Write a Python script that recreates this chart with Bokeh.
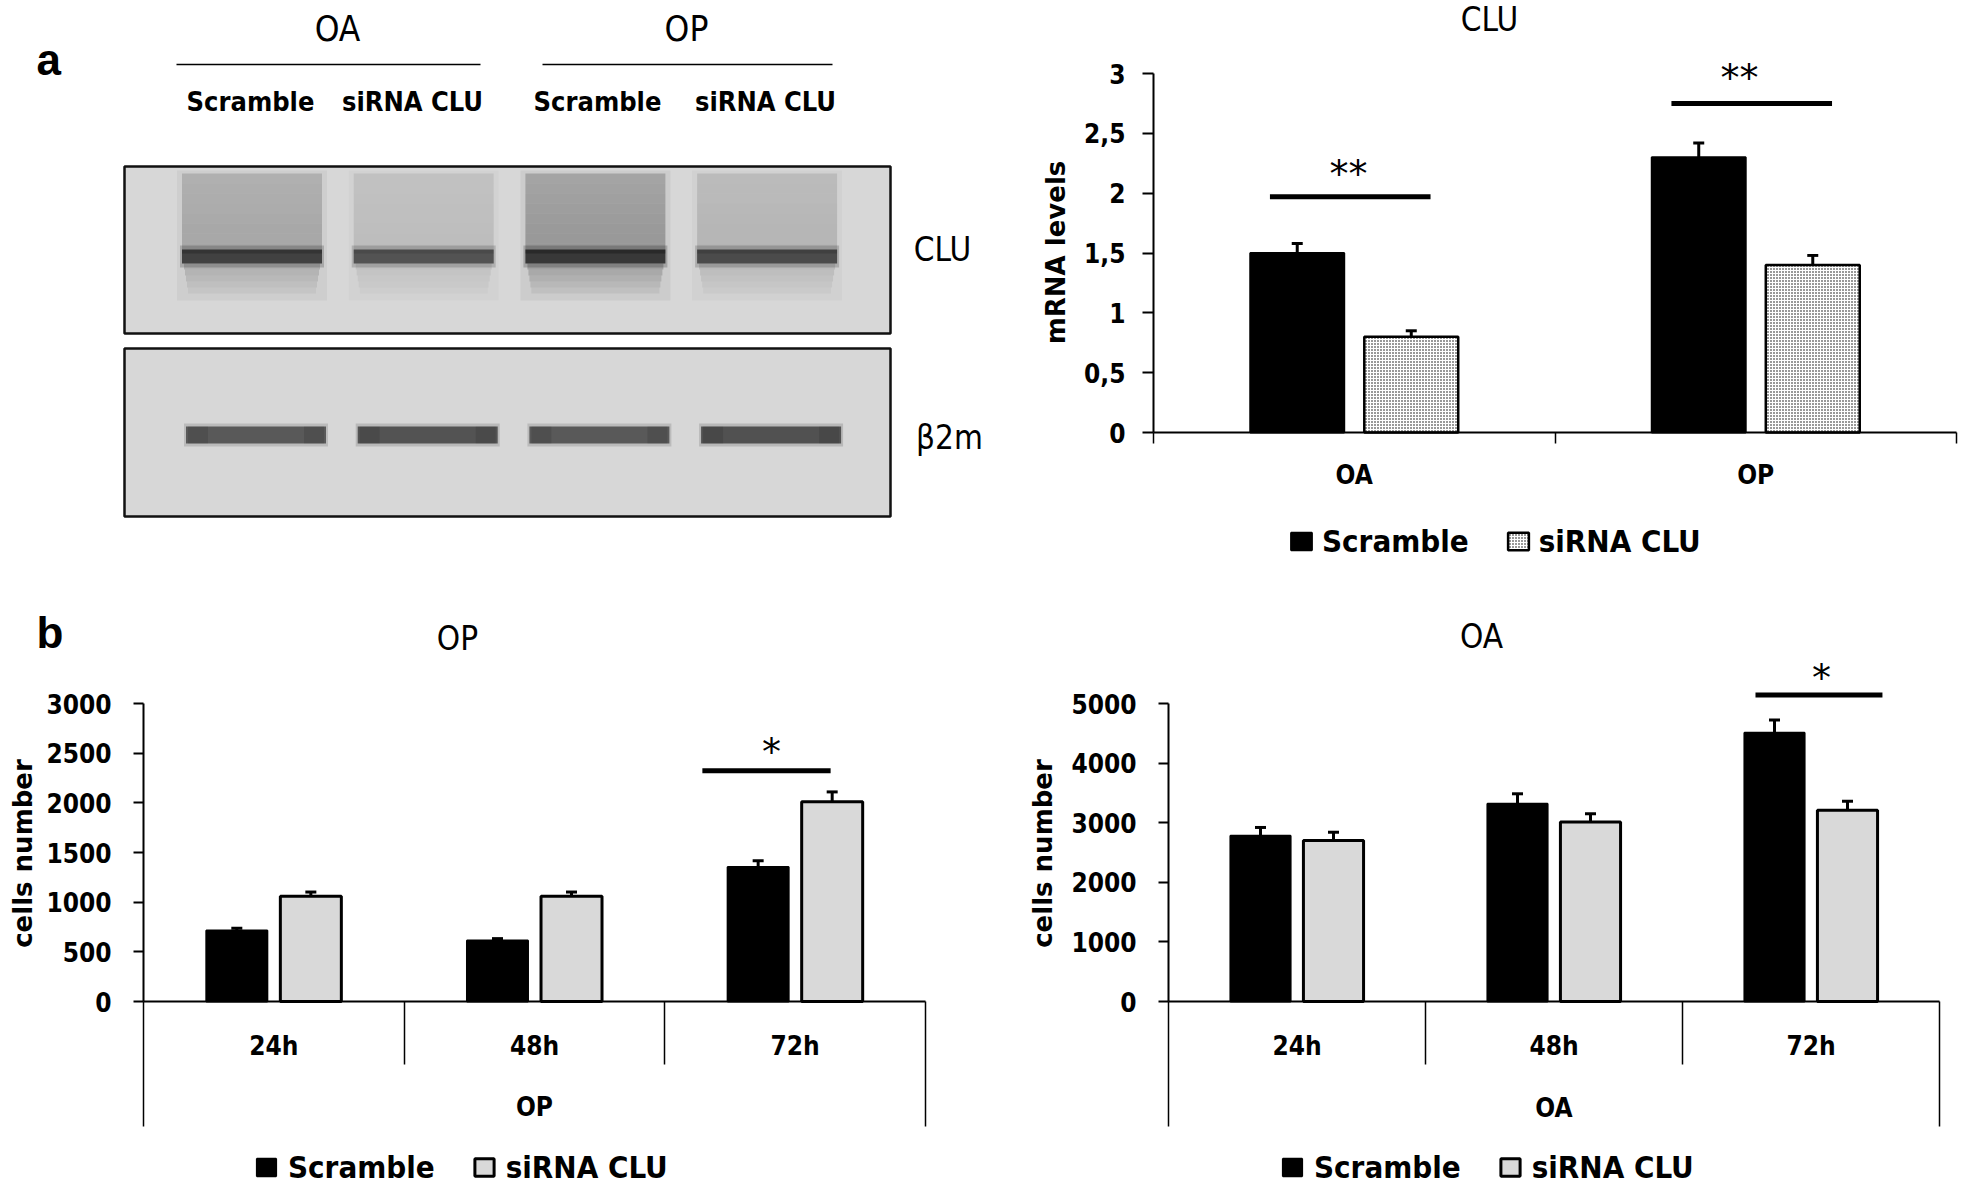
from math import pi
from bokeh.plotting import figure
from bokeh.models import (Range1d, FixedTicker, LinearAxis, Whisker, TeeHead,
                          ColumnDataSource, Legend, LegendItem)
from bokeh.layouts import column, row
from bokeh.core.properties import value
from bokeh.embed import file_html
from bokeh.resources import INLINE

# ---------------- data ----------------
series = ["Scramble", "siRNA CLU"]

blot_groups = ["OA", "OP"]
blot_lanes = ["Scramble", "siRNA CLU", "Scramble", "siRNA CLU"]
blot_targets = ["CLU", "β2m"]
clu_band_density = [0.61, 0.53, 0.66, 0.57]
clu_smear_density = [0.17, 0.09, 0.23, 0.12]
b2m_band_density = [0.52, 0.55, 0.52, 0.56]

clu_title = "CLU"
clu_ylabel = "mRNA levels"
clu_groups = ["OA", "OP"]
clu_scramble = [1.5, 2.3]
clu_scramble_err = [0.08, 0.12]
clu_sirna = [0.8, 1.4]
clu_sirna_err = [0.05, 0.08]
clu_yticks = [0, 0.5, 1, 1.5, 2, 2.5, 3]
clu_ytick_labels = ["0", "0,5", "1", "1,5", "2", "2,5", "3"]
clu_sig_level = [1.97, 2.75]
clu_sig_mark = ["**", "**"]

hours = ["24h", "48h", "72h"]
cells_ylabel = "cells number"

op_title = "OP"
op_scramble = [715, 615, 1355]
op_scramble_err = [22, 18, 62]
op_sirna = [1060, 1060, 2010]
op_sirna_err = [42, 42, 100]
op_yticks = [0, 500, 1000, 1500, 2000, 2500, 3000]
op_sig_level = 2322
op_sig_mark = "*"

oa_title = "OA"
oa_scramble = [2780, 3320, 4510]
oa_scramble_err = [140, 165, 215]
oa_sirna = [2700, 3010, 3210]
oa_sirna_err = [140, 140, 150]
oa_yticks = [0, 1000, 2000, 3000, 4000, 5000]
oa_sig_level = 5143
oa_sig_mark = "*"

# ---------------- style / layout ----------------
COND = "DejaVu Sans Condensed"
SANS = "DejaVu Sans"
LETTER = "Liberation Sans"
BAR_W = 0.234
BAR_OFF = 0.142
STAR_DY = 6


def new_fig(x0, x1, y0, y1, xr, yr):
    p = figure(width=x1 - x0, height=y1 - y0, x_range=xr, y_range=yr,
               x_axis_location=None, y_axis_location=None, toolbar_location=None,
               output_backend="svg", min_border=0)
    p.xgrid.visible = False
    p.ygrid.visible = False
    p.outline_line_color = None
    p.background_fill_color = "white"
    p.border_fill_color = "white"
    return p


def chart(x0, x1, y0, y1, axis_px, zero_px, top_px, unit_x, ymax):
    spy = (zero_px - top_px) / ymax
    fx = lambda px: (px - axis_px) / unit_x
    fy = lambda py: (zero_px - py) / spy
    p = new_fig(x0, x1, y0, y1, Range1d(fx(x0), fx(x1)), Range1d(fy(y1), fy(y0)))
    return p, fx, fy


def add_axes(p, cats, x_end, yticks, ylabels, ymax, y_tick_out, y_standoff,
             outer_ticks, outer_len, inner_ticks, inner_len, lab_standoff):
    yax = LinearAxis(fixed_location=0, bounds=(0, ymax), ticker=FixedTicker(ticks=yticks),
                     major_label_overrides={t: l for t, l in zip(yticks, ylabels)},
                     major_label_text_font=COND, major_label_text_font_size="26px",
                     major_label_text_font_style="bold", major_label_text_color="black",
                     major_label_standoff=y_standoff, major_tick_in=0, major_tick_out=y_tick_out,
                     major_tick_line_width=2, major_tick_line_color="black",
                     minor_tick_line_color=None, axis_line_width=2, axis_line_color="black")
    p.add_layout(yax, "left")
    n = len(cats)
    xa = LinearAxis(fixed_location=0, bounds=(0, x_end),
                    ticker=FixedTicker(ticks=[i + 0.5 for i in range(n)]),
                    major_label_overrides={i + 0.5: c for i, c in enumerate(cats)},
                    major_tick_in=0, major_tick_out=0, major_tick_line_color=None,
                    minor_tick_line_color=None, axis_line_width=2, axis_line_color="black",
                    major_label_standoff=lab_standoff, major_label_text_font=COND,
                    major_label_text_font_size="26px", major_label_text_font_style="bold",
                    major_label_text_color="black")
    p.add_layout(xa, "below")
    xb = LinearAxis(fixed_location=0,
                    ticker=FixedTicker(ticks=outer_ticks, minor_ticks=inner_ticks),
                    axis_line_color=None, major_tick_in=0, major_tick_out=outer_len,
                    major_tick_line_width=1.5, major_tick_line_color="black",
                    minor_tick_in=0, minor_tick_out=inner_len, minor_tick_line_width=1.5,
                    minor_tick_line_color="black",
                    major_label_overrides={t: "" for t in outer_ticks},
                    major_label_text_color=None, major_label_text_font_size="1px")
    p.add_layout(xb, "below")


def add_bars(p, s_vals, s_err, r_vals, r_err, sirna_style):
    n = len(s_vals)
    xs = [i + 0.5 - BAR_OFF for i in range(n)]
    xr = [i + 0.5 + BAR_OFF for i in range(n)]
    r1 = p.vbar(x=xs, top=s_vals, width=BAR_W, bottom=0, fill_color="black",
                line_color="black", line_width=2)
    r2 = p.vbar(x=xr, top=r_vals, width=BAR_W, bottom=0, **sirna_style)
    src = ColumnDataSource(dict(base=xs + xr, lower=list(s_vals) + list(r_vals),
                                upper=[v + e for v, e in zip(s_vals, s_err)] +
                                      [v + e for v, e in zip(r_vals, r_err)]))
    p.add_layout(Whisker(source=src, base="base", lower="lower", upper="upper",
                         dimension="height", line_width=3, line_color="black",
                         upper_head=TeeHead(size=11, line_width=3, line_color="black"),
                         lower_head=None, level="overlay"))
    return r1, r2


def add_text(p, xs, ys, texts, font, size, style="normal", align="center",
             baseline="middle", angle=0):
    p.text(x=xs, y=ys, text=texts, text_font=value(font), text_font_size=size,
           text_font_style=style, text_align=align, text_baseline=baseline,
           text_color="black", angle=angle)


def add_legend(p, r1, r2, vx, vy, gw, gh, standoff, spacing):
    lg = Legend(items=[LegendItem(label=series[0], renderers=[r1]),
                       LegendItem(label=series[1], renderers=[r2])],
                orientation="horizontal", location=(vx, vy),
                glyph_width=gw, glyph_height=gh, label_standoff=standoff, spacing=spacing,
                padding=0, margin=0, border_line_color=None, background_fill_alpha=0,
                label_text_font=COND, label_text_font_size="31px",
                label_text_font_style="bold", label_text_color="black")
    p.add_layout(lg, "center")


# ---------------- panel a : blot (pixel space) ----------------
TOP_H = 572
blot = new_fig(0, 1010, 0, TOP_H, Range1d(0, 1010), Range1d(TOP_H, 0))

lane_x = [251.5 + i * 171.7 for i in range(len(blot_lanes))]
lane_label_x = [250, 412, 597, 765]
group_x = [337, 686]
group_line = [(176, 480), (542, 832)]

blot.quad(left=[124, 124], right=[890, 890], top=[166, 348], bottom=[333, 516],
          fill_color="#d7d7d7", line_color="#111111", line_width=2.5)
# CLU lane smears (layered for a soft gradient)
blot.quad(left=[x - 75 for x in lane_x], right=[x + 75 for x in lane_x],
          top=[170] * 4, bottom=[300] * 4, fill_color="black",
          fill_alpha=[a * 0.22 for a in clu_smear_density], line_color=None)
for k in range(8):
    t = 173 + k * 10
    blot.quad(left=[x - 70 for x in lane_x], right=[x + 70 for x in lane_x],
              top=[t] * 4, bottom=[t + 10] * 4, fill_color="black",
              fill_alpha=[a * (0.85 + 0.04 * k) for a in clu_smear_density], line_color=None)
for k in range(5):
    t = 263 + k * 6
    blot.quad(left=[x - 68 + k for x in lane_x], right=[x + 68 - k for x in lane_x],
              top=[t] * 4, bottom=[t + 6] * 4, fill_color="black",
              fill_alpha=[a * (0.9 - 0.16 * k) for a in clu_smear_density], line_color=None)
blot.quad(left=[x - 72 for x in lane_x], right=[x + 72 for x in lane_x],
          top=[245] * 4, bottom=[267] * 4, fill_color="black",
          fill_alpha=[a * 0.3 for a in clu_band_density], line_color=None)
blot.quad(left=[x - 70 for x in lane_x], right=[x + 70 for x in lane_x],
          top=[249] * 4, bottom=[263] * 4, fill_color="black",
          fill_alpha=clu_band_density, line_color=None)
# beta2m bands
bx = [x + 4 for x in lane_x]
blot.quad(left=[x - 72 for x in bx], right=[x + 72 for x in bx],
          top=[423] * 4, bottom=[446] * 4, fill_color="black",
          fill_alpha=[a * 0.25 for a in b2m_band_density], line_color=None)
blot.quad(left=[x - 70 for x in bx], right=[x + 70 for x in bx],
          top=[426] * 4, bottom=[443] * 4, fill_color="black",
          fill_alpha=b2m_band_density, line_color=None)
blot.quad(left=[x - 68 for x in bx] + [x + 48 for x in bx],
          right=[x - 48 for x in bx] + [x + 68 for x in bx],
          top=[426] * 8, bottom=[443] * 8, fill_color="black", fill_alpha=0.1, line_color=None)

blot.segment(x0=[g[0] for g in group_line], x1=[g[1] for g in group_line],
             y0=[64, 64], y1=[64, 64], line_color="black", line_width=1.5)
add_text(blot, group_x, [28, 28], blot_groups, COND, "35px")
add_text(blot, lane_label_x, [101] * 4, blot_lanes, COND, "27px", "bold")
add_text(blot, [942, 949], [249, 437], blot_targets, COND, "33px")
add_text(blot, [36], [59], ["a"], LETTER, "44px", "bold", "left", "alphabetic")

# ---------------- panel a : CLU mRNA ----------------
clu, cfx, cfy = chart(1010, 1960, 0, TOP_H, 1153, 432, 73, 401.5, 3)
add_axes(clu, clu_groups, 2, clu_yticks, clu_ytick_labels, 3, 11, 17,
         [0, 1, 2], 11, [], 0, 27)
c1, c2 = add_bars(clu, clu_scramble, clu_scramble_err, clu_sirna, clu_sirna_err,
                  dict(fill_color="white", line_color="black", line_width=2.5,
                       hatch_pattern="dot", hatch_scale=3, hatch_weight=1.4,
                       hatch_color="black"))
clu.segment(x0=[i + 0.29 for i in range(2)], x1=[i + 0.69 for i in range(2)],
            y0=clu_sig_level, y1=clu_sig_level, line_color="black", line_width=5)
add_text(clu, [cfx(1348), cfx(1739)], [cfy(167 + STAR_DY), cfy(71 + STAR_DY)],
         clu_sig_mark, SANS, "38px")
add_text(clu, [cfx(1489)], [cfy(19)], [clu_title], COND, "33px")
add_text(clu, [cfx(1055)], [cfy(252)], [clu_ylabel], SANS, "26px", "bold", angle=pi / 2)
add_legend(clu, c1, c2, 1288 - 1010, TOP_H - 559, 26, 22, 8, 36)

# ---------------- panel b ----------------
BOT_H = 614
GRAY = dict(fill_color="#d9d9d9", line_color="black", line_width=3)

op, pfx, pfy = chart(0, 980, TOP_H, TOP_H + BOT_H, 143, 1001, 703, (925 - 143) / 3, 3000)
add_axes(op, hours, 3, op_yticks, [str(t) for t in op_yticks], 3000, 10, 22,
         [0, 3], 125, [1, 2], 63, 29)
o1, o2 = add_bars(op, op_scramble, op_scramble_err, op_sirna, op_sirna_err, GRAY)
op.segment(x0=[2.144], x1=[2.636], y0=[op_sig_level], y1=[op_sig_level],
           line_color="black", line_width=5)
add_text(op, [pfx(771)], [pfy(745 + STAR_DY)], [op_sig_mark], SANS, "38px")
add_text(op, [pfx(457)], [pfy(638)], [op_title], COND, "33px")
add_text(op, [1.5], [pfy(1106)], [op_title], COND, "26px", "bold")
add_text(op, [pfx(22)], [pfy(853)], [cells_ylabel], SANS, "26px", "bold", angle=pi / 2)
add_text(op, [pfx(36)], [pfy(632)], ["b"], LETTER, "44px", "bold", "left", "alphabetic")
add_legend(op, o1, o2, 254, TOP_H + BOT_H - 1185, 24, 22, 10, 37)

oa, afx, afy = chart(980, 1960, TOP_H, TOP_H + BOT_H, 1168, 1001, 703, (1939 - 1168) / 3, 5000)
add_axes(oa, hours, 3, oa_yticks, [str(t) for t in oa_yticks], 5000, 10, 22,
         [0, 3], 125, [1, 2], 63, 29)
a1, a2 = add_bars(oa, oa_scramble, oa_scramble_err, oa_sirna, oa_sirna_err, GRAY)
oa.segment(x0=[2.284], x1=[2.778], y0=[oa_sig_level], y1=[oa_sig_level],
           line_color="black", line_width=5)
add_text(oa, [afx(1821)], [afy(671 + STAR_DY)], [oa_sig_mark], SANS, "38px")
add_text(oa, [afx(1481)], [afy(636)], [oa_title], COND, "33px")
add_text(oa, [1.5], [afy(1107)], [oa_title], COND, "26px", "bold")
add_text(oa, [afx(1042)], [afy(853)], [cells_ylabel], SANS, "26px", "bold", angle=pi / 2)
add_legend(oa, a1, a2, 1280 - 980, TOP_H + BOT_H - 1185, 24, 22, 10, 37)

layout = column(row(blot, clu), row(op, oa))
open("out.html", "w").write(file_html(layout, INLINE))
